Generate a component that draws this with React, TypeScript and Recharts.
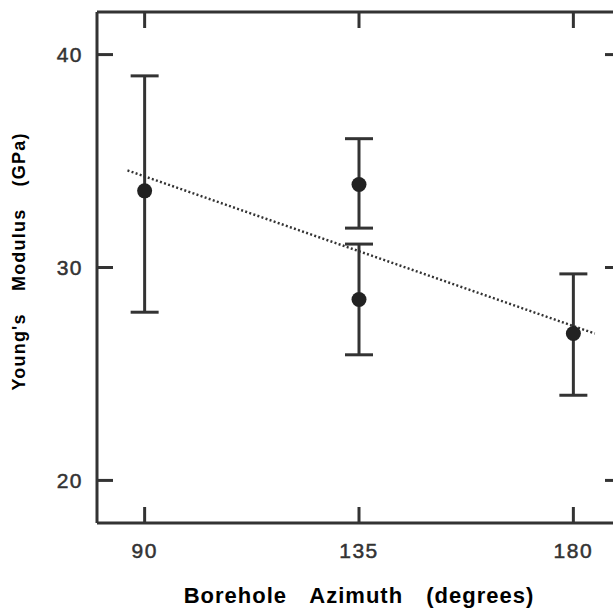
import React from 'react';
import { ScatterChart, Scatter, XAxis, YAxis, ErrorBar, Label } from 'recharts';

const azimuth = [90, 135, 135, 180];
const modulus = [33.6, 33.9, 28.5, 26.9];
const errLow = [5.7, 2.05, 2.6, 2.9];
const errHigh = [5.4, 2.15, 2.6, 2.8];

// fitted trend (dotted line) end points
const trendX = [86.4, 184.5];
const trendY = [34.56, 26.9];

const xTicks = [90, 135, 180];
const yTicks = [20, 30, 40];

const points = azimuth.map((x, i) => ({ x, y: modulus[i], err: [errLow[i], errHigh[i]] }));
const trend = trendX.map((x, i) => ({ x, y: trendY[i] }));

const INK = '#333';
const FONT = 'Liberation Sans, Arial, Helvetica, sans-serif';

const frameLine = { stroke: INK, strokeWidth: 3 };

const Dot = (p: any) => <circle cx={p.cx} cy={p.cy} r={7.5} fill="#222" />;
const NoTick = () => <g />;

const XTick = (p: any) => (
    <text x={p.x} y={p.y} dy="0.72em" textAnchor="middle" fontFamily={FONT} fontSize={21} fill={INK} stroke={INK} strokeWidth={0.5} style={{ letterSpacing: '1.5px' }}>
        {p.payload.value}
    </text>
);

const YTick = (p: any) => (
    <text x={p.x} y={p.y} dy="0.36em" textAnchor="end" fontFamily={FONT} fontSize={21} fill={INK} stroke={INK} strokeWidth={0.5} style={{ letterSpacing: '1.5px' }}>
        {p.payload.value}
    </text>
);

const XTitle = (props: any) => {
    const { x, y, width } = props.viewBox;
    return (
        <text
            x={x + width / 2}
            y={y + 80}
            textAnchor="middle"
            fontFamily={FONT}
            fontWeight="bold"
            fontSize={22}
            fill="#000"
            style={{ letterSpacing: '1px', wordSpacing: '16px' }}
        >
            Borehole Azimuth (degrees)
        </text>
    );
};

const YTitle = (props: any) => {
    const { y, height } = props.viewBox;
    const cy = y + height / 2 - 6;
    return (
        <text
            transform={`translate(25, ${cy}) rotate(-90)`}
            textAnchor="middle"
            fontFamily={FONT}
            fontWeight="bold"
            fontSize={18}
            fill="#000"
            style={{ letterSpacing: '1.2px', wordSpacing: '16px' }}
        >
            Young's Modulus (GPa)
        </text>
    );
};

const App: React.FC = () => {
    return (
        <div style={{ position: 'absolute', left: 0, top: 0, width: 613, height: 610, overflow: 'hidden', background: '#fff' }}>
            <ScatterChart width={640} height={610} margin={{ top: 10, right: 0, left: 0, bottom: 0 }}>
                <XAxis
                    xAxisId="bottom"
                    type="number"
                    dataKey="x"
                    domain={[80, 190]}
                    ticks={xTicks}
                    allowDataOverflow
                    height={87}
                    tickSize={-16}
                    tickMargin={36}
                    axisLine={frameLine}
                    tickLine={frameLine}
                    tick={XTick}
                    label={<Label content={XTitle} />}
                />
                <XAxis
                    xAxisId="top"
                    orientation="top"
                    type="number"
                    dataKey="x"
                    domain={[80, 190]}
                    ticks={xTicks}
                    allowDataOverflow
                    height={2}
                    tickSize={-16}
                    axisLine={frameLine}
                    tickLine={frameLine}
                    tick={NoTick}
                />
                <YAxis
                    yAxisId="left"
                    type="number"
                    dataKey="y"
                    domain={[18, 42]}
                    ticks={yTicks}
                    allowDataOverflow
                    width={97}
                    tickSize={-16}
                    tickMargin={30}
                    axisLine={frameLine}
                    tickLine={frameLine}
                    tick={YTick}
                    label={<Label content={YTitle} />}
                />
                <YAxis
                    yAxisId="right"
                    orientation="right"
                    type="number"
                    dataKey="y"
                    domain={[18, 42]}
                    ticks={yTicks}
                    allowDataOverflow
                    width={19}
                    tickSize={-16}
                    axisLine={frameLine}
                    tickLine={frameLine}
                    tick={NoTick}
                />
                <Scatter
                    xAxisId="bottom"
                    yAxisId="left"
                    data={trend}
                    line={{ stroke: '#333', strokeWidth: 2.4, strokeDasharray: '2 2.3' }}
                    shape={NoTick}
                    isAnimationActive={false}
                />
                <Scatter
                    xAxisId="bottom"
                    yAxisId="left"
                    data={points}
                    shape={Dot}
                    fill="#222"
                    isAnimationActive={false}
                >
                    <ErrorBar dataKey="err" direction="y" width={14} stroke={INK} strokeWidth={3} isAnimationActive={false} />
                </Scatter>
            </ScatterChart>
        </div>
    );
};

export default App;
